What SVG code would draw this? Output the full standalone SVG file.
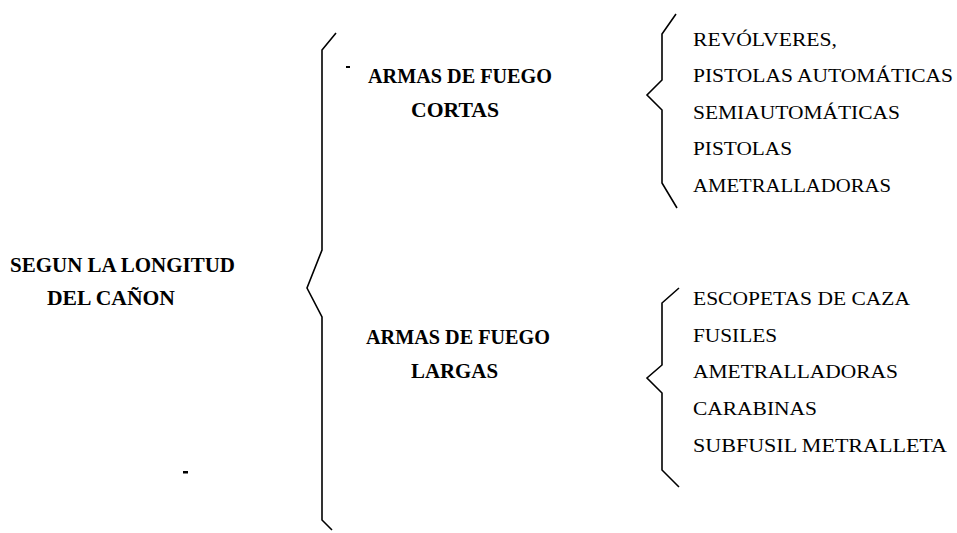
<svg xmlns="http://www.w3.org/2000/svg" width="957" height="533" viewBox="0 0 957 533">
<style>
.b{font-family:"Liberation Serif","Times New Roman",serif;font-weight:bold;font-size:20px;fill:#000}
.r{font-family:"Liberation Serif","Times New Roman",serif;font-size:19px;fill:#000}
.br{fill:none;stroke:#000;stroke-width:1.6;stroke-linejoin:miter}
</style>
<rect width="957" height="533" fill="#fff"/>
<g id="connectors">
<path class="br" d="M336,33 L322,50 L322,250 L307,288 L322,317 L322,520 L332,530"/>
<path class="br" d="M676,14 L662,34 L662,80 L647,95 L662,110 L662,183 L677,208"/>
<path class="br" d="M679,288 L662,303 L662,365 L647,378 L662,393 L662,470 L679,487"/>
</g>
<g id="root">
<text class="b" x="10" y="272" textLength="225" lengthAdjust="spacingAndGlyphs">SEGUN LA LONGITUD</text>
<text class="b" x="47" y="305" textLength="128" lengthAdjust="spacingAndGlyphs">DEL CAÑON</text>
</g>
<g id="cortas">
<text class="b" x="368" y="83" textLength="184" lengthAdjust="spacingAndGlyphs">ARMAS DE FUEGO</text>
<text class="b" x="411" y="117" textLength="88" lengthAdjust="spacingAndGlyphs">CORTAS</text>
</g>
<g id="largas">
<text class="b" x="366" y="344" textLength="184" lengthAdjust="spacingAndGlyphs">ARMAS DE FUEGO</text>
<text class="b" x="411" y="378" textLength="87" lengthAdjust="spacingAndGlyphs">LARGAS</text>
</g>
<g id="cortas-items">
<text class="r" x="693" y="46" textLength="144" lengthAdjust="spacingAndGlyphs">REVÓLVERES,</text>
<text class="r" x="693" y="82" textLength="260" lengthAdjust="spacingAndGlyphs">PISTOLAS AUTOMÁTICAS</text>
<text class="r" x="693" y="119" textLength="207" lengthAdjust="spacingAndGlyphs">SEMIAUTOMÁTICAS</text>
<text class="r" x="693" y="155" textLength="99" lengthAdjust="spacingAndGlyphs">PISTOLAS</text>
<text class="r" x="693" y="192" textLength="198" lengthAdjust="spacingAndGlyphs">AMETRALLADORAS</text>
</g>
<g id="largas-items">
<text class="r" x="693" y="305" textLength="217" lengthAdjust="spacingAndGlyphs">ESCOPETAS DE CAZA</text>
<text class="r" x="693" y="342" textLength="84" lengthAdjust="spacingAndGlyphs">FUSILES</text>
<text class="r" x="693" y="378" textLength="205" lengthAdjust="spacingAndGlyphs">AMETRALLADORAS</text>
<text class="r" x="693" y="415" textLength="124" lengthAdjust="spacingAndGlyphs">CARABINAS</text>
<text class="r" x="693" y="452" textLength="254" lengthAdjust="spacingAndGlyphs">SUBFUSIL  METRALLETA</text>
</g>
<g id="specks" fill="#000">
<rect x="346" y="66" width="4" height="2"/>
<rect x="183" y="471" width="5" height="2.5"/>
</g>
</svg>
